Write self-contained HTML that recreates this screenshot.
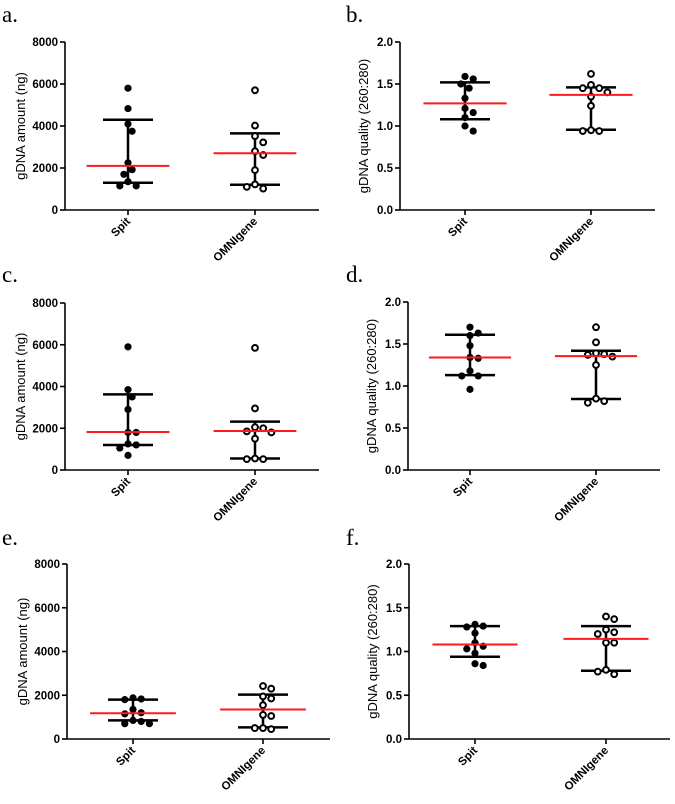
<!DOCTYPE html>
<html><head><meta charset="utf-8"><style>
html,body{margin:0;padding:0;background:#fff;}
svg{display:block;font-family:"Liberation Sans",Arial,sans-serif;}
</style></head><body>
<svg id="fig" width="675" height="804" viewBox="0 0 675 804"></svg>
<script>
const categories = ["Spit","OMNIgene"];
const aSpit = [5800,4830,4100,3750,2250,1920,1700,1350,1150,1150];
const aOmni = [5700,4020,3520,3220,2800,2620,1900,1220,1020,1100];
const aStats = [[2100,4300,1300],[2700,3650,1200]];
const bSpit = [1.59,1.56,1.50,1.45,1.33,1.21,1.16,1.10,1.00,0.94];
const bOmni = [1.62,1.49,1.45,1.45,1.40,1.35,1.24,0.95,0.94,0.94];
const bStats = [[1.27,1.52,1.08],[1.37,1.46,0.955]];
const cSpit = [5900,3850,3500,2900,1800,1800,1250,1200,1050,700];
const cOmni = [5850,2950,2050,2000,1850,1800,1500,550,520,520];
const cStats = [[1820,3620,1200],[1870,2320,550]];
const dSpit = [1.70,1.63,1.60,1.48,1.34,1.33,1.18,1.12,1.12,0.96];
const dOmni = [1.70,1.52,1.39,1.38,1.37,1.35,1.25,0.85,0.82,0.80];
const dStats = [[1.34,1.61,1.13],[1.355,1.42,0.845]];
const eSpit = [1880,1830,1800,1350,1200,1150,850,800,700,700];
const eOmni = [2420,2300,1950,1850,1550,1100,1050,500,450,500];
const eStats = [[1180,1800,850],[1350,2030,530]];
const fSpit = [1.31,1.29,1.28,1.21,1.10,1.06,1.03,0.98,0.86,0.84];
const fOmni = [1.40,1.37,1.25,1.22,1.20,1.10,1.10,0.79,0.74,0.77];
const fStats = [[1.08,1.29,0.94],[1.145,1.29,0.78]];
const amtTicks = [0,2000,4000,6000,8000];
const qTicks = ["0.0","0.5","1.0","1.5","2.0"];

const NS="http://www.w3.org/2000/svg";
const svg=document.getElementById('fig');
function mk(tag,attrs,parent){const e=document.createElementNS(NS,tag);for(const k in attrs)e.setAttribute(k,attrs[k]);(parent||svg).appendChild(e);return e;}

const panels=[
 {id:'a',lx:2,ly:22,ax:65,top:42,bot:210,right:319,cx:[128,255],max:8000,ticks:amtTicks,title:'gDNA amount (ng)',tx:25,data:[aSpit,aOmni],stats:aStats},
 {id:'b',lx:346,ly:22,ax:400,top:42,bot:210,right:655,cx:[465,591],max:2,ticks:qTicks,title:'gDNA quality (260:280)',tx:368,data:[bSpit,bOmni],stats:bStats},
 {id:'c',lx:2,ly:282,ax:65,top:303,bot:470,right:319,cx:[128,255],max:8000,ticks:amtTicks,title:'gDNA amount (ng)',tx:25,data:[cSpit,cOmni],stats:cStats},
 {id:'d',lx:346,ly:282,ax:408,top:302,bot:470,right:660,cx:[470,596],max:2,ticks:qTicks,title:'gDNA quality (260:280)',tx:376,data:[dSpit,dOmni],stats:dStats},
 {id:'e',lx:2,ly:545,ax:67,top:564,bot:739,right:330,cx:[133,263],max:8000,ticks:amtTicks,title:'gDNA amount (ng)',tx:27,data:[eSpit,eOmni],stats:eStats},
 {id:'f',lx:346,ly:545,ax:409,top:564,bot:739,right:670,cx:[475,606],max:2,ticks:qTicks,title:'gDNA quality (260:280)',tx:377,data:[fSpit,fOmni],stats:fStats}
];

panels.forEach(p=>{
 const g=mk('g',{});
 
 
 const y=v=>p.bot-(v/p.max)*(p.bot-p.top);
 const lab=mk('text',{x:p.lx,y:p.ly,'font-family':'"Liberation Serif",serif','font-size':23},g);
 
 
 lab.textContent=p.id+'.';
 const yax=mk('line',{x1:p.ax,y1:p.top,x2:p.ax,y2:p.bot,stroke:'#000','stroke-width':1.6},g);
 
 
 const xax=mk('line',{x1:p.ax,y1:p.bot,x2:p.right,y2:p.bot,stroke:'#000','stroke-width':1.6},g);
 
 
 p.ticks.forEach(t=>{
  const v=parseFloat(t), yy=y(v);
  mk('line',{x1:p.ax-5,y1:yy,x2:p.ax,y2:yy,stroke:'#000','stroke-width':1.6},g);
  const tl=mk('text',{x:p.ax-7,y:yy+4,'text-anchor':'end','font-size':11.5,'font-weight':'bold'},g);
  
  
  tl.textContent=t;
 });
 const my=(p.top+p.bot)/2;
 const tt=mk('text',{x:p.tx,y:my,'text-anchor':'middle','font-size':13,transform:`rotate(-90 ${p.tx} ${my})`},g);
 
 
 tt.textContent=p.title;
 const hw=(p.right-p.ax)*0.163;
 categories.forEach((c,i)=>{
  const cx=p.cx[i];
  mk('line',{x1:cx,y1:p.bot,x2:cx,y2:p.bot+5,stroke:'#000','stroke-width':1.6},g);
  const cl=mk('text',{x:cx+3,y:p.bot+12,'text-anchor':'end','font-size':11.5,'font-weight':'bold',transform:`rotate(-45 ${cx+3} ${p.bot+12})`},g);
  
  
  cl.textContent=c;
  const [med,hi,lo]=p.stats[i];
  const eb=mk('line',{x1:cx,y1:y(hi),x2:cx,y2:y(lo),stroke:'#000','stroke-width':2.5},g);
  
  
  [hi,lo].forEach(v=>{
   const cap=mk('line',{x1:cx-25,y1:y(v),x2:cx+25,y2:y(v),stroke:'#000','stroke-width':2.5},g);
   
   
  });
  const placed=[], r=3.6, d=2*r+1;
  p.data[i].forEach(v=>{
   const yy=y(v); let off=0;
   for(let k=0;k<40;k++){
    const cand=k===0?0:(k%2?1:-1)*Math.ceil(k/2)*(d/2);
    if(placed.every(q=>Math.hypot(q[0]-cand,q[1]-yy)>=d-0.5)){off=cand;break;}
   }
   placed.push([off,yy]);
   const pt=mk('circle',{cx:cx+off,cy:yy,r:i===0?3.6:2.9,fill:i===0?'#000':'#fff',stroke:'#000','stroke-width':i===0?0:2},g);
   
   
  });
  const ml=mk('line',{x1:cx-hw,y1:y(med),x2:cx+hw,y2:y(med),stroke:'#ff1a1a','stroke-width':2},g);
  
  
 });
});
</script>
</body></html>
